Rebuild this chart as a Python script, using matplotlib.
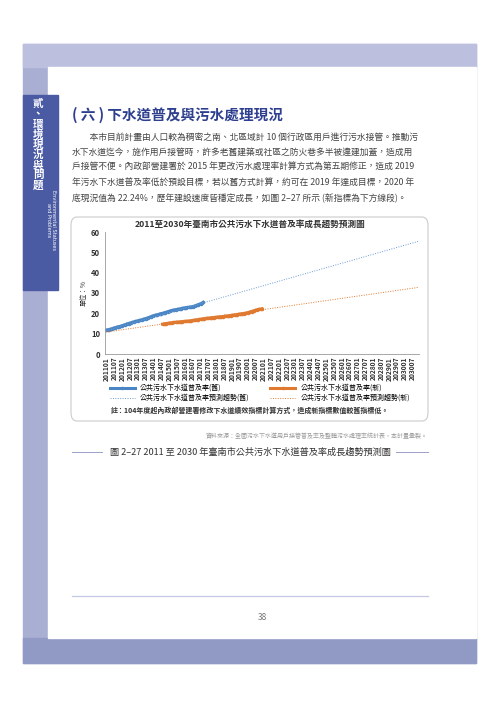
import matplotlib
matplotlib.use("Agg")
import matplotlib.pyplot as plt
from matplotlib.patches import Rectangle, FancyBboxPatch
import numpy as np

plt.rcParams['font.family'] = ['Noto Sans CJK TC', 'DejaVu Sans']

# ---- data ----
old_rate = [11.8,11.9,12.0,12.2,12.4,12.6,12.8,13.0,13.2,13.4,13.5,13.7,
            13.9,14.1,14.3,14.6,14.8,15.0,15.2,15.4,15.6,15.8,16.0,16.1,
            16.3,16.5,16.6,16.8,17.0,17.2,17.4,17.6,17.8,18.0,18.3,18.6,
            18.8,19.0,19.2,19.3,19.5,19.7,19.9,20.0,20.2,20.4,20.6,20.8,
            21.0,21.2,21.4,21.5,21.7,21.8,21.9,22.0,22.2,22.3,22.5,22.6,
            22.7,22.8,22.9,23.0,23.1,23.2,23.3,23.5,23.7,24.0,24.2,24.4,
            24.7,25.0,25.4]
old_start = 0          # 2011-01
new_rate = [14.7,14.8,14.9,15.0,15.1,
            15.2,15.3,15.4,15.5,15.5,15.6,15.7,15.7,15.8,15.9,15.9,16.0,
            16.0,16.1,16.1,16.2,16.3,16.4,16.5,16.6,16.7,16.8,16.9,17.0,
            17.1,17.2,17.3,17.4,17.5,17.6,17.6,17.7,17.8,17.9,17.9,18.0,
            18.0,18.1,18.2,18.3,18.3,18.4,18.5,18.6,18.6,18.7,18.8,18.9,
            19.0,19.1,19.2,19.3,19.4,19.5,19.6,19.7,19.8,19.9,20.0,20.1,
            20.3,20.5,20.7,20.9,21.1,21.3,21.5,21.7,21.9,22.0,22.1,22.24]
new_start = 43         # 2014-08
trend_months = [0, 239]
old_trend = [11.5, 55.5]
new_trend = [10.8, 32.8]
years = list(range(2011, 2031))
tick_labels = [f"{y}{m}" for y in years for m in ("01", "07")]

W, H = 500, 707
fig = plt.figure(figsize=(5, 7.07), dpi=100)
def fx(x): return x / W
def fy(y): return 1 - y / H

# page frame
fig.patches.append(Rectangle((fx(23), fy(663)), fx(453), (619) / H, transform=fig.transFigure, color='#a9afd3', zorder=0))
fig.patches.append(Rectangle((fx(23), fy(67)), fx(453), 23 / H, transform=fig.transFigure, color='#bcc0de', zorder=0.5))
fig.patches.append(Rectangle((fx(23), fy(663)), fx(453), 25 / H, transform=fig.transFigure, color='#9199c5', zorder=0.5))
fig.patches.append(Rectangle((fx(48), fy(638)), fx(428), 571 / H, transform=fig.transFigure, color='white', zorder=1))
fig.patches.append(Rectangle((fx(23), fy(290)), fx(35), 195 / H, transform=fig.transFigure, color='#4a5aa3', zorder=1))
fig.text(fx(38), fy(99), "貳\n、\n環\n境\n現\n況\n與\n問\n題", color='white', fontsize=7.6, fontweight='bold',
         ha='center', va='top', linespacing=1.0, zorder=2)
fig.text(fx(51), fy(220), "Environmental Statuses\nand Problems", color='white', fontsize=3.6, rotation=-90,
         ha='center', va='center', family='DejaVu Sans', linespacing=1.0, zorder=2)

# heading and body
fig.text(fx(72), fy(115), "( 六 ) 下水道普及與污水處理現況", color='#2e3f8f', fontsize=10.5, fontweight='bold', va='center')
body = ["　　本市目前計畫由人口較為稠密之南、北區域計 10 個行政區用戶進行污水接管。推動污",
        "水下水道迄今，施作用戶接管時，許多老舊建築或社區之防火巷多半被違建加蓋，造成用",
        "戶接管不便。內政部營建署於 2015 年更改污水處理率計算方式為第五期修正，造成 2019",
        "年污水下水道普及率低於預設目標，若以舊方式計算，約可在 2019 年達成目標，2020 年",
        "底現況值為 22.24%，歷年建設速度皆穩定成長，如圖 2–27 所示 (新指標為下方線段)。"]
for i, line in enumerate(body):
    fig.text(fx(72), fy(137 + i * 15.3), line, fontsize=6.3, color='#444444', va='center')

# chart box
fig.patches.append(FancyBboxPatch((fx(71), fy(421)), fx(357), 204 / H, boxstyle="round,pad=0,rounding_size=0.012",
                                  transform=fig.transFigure, facecolor='white', edgecolor='#cccccc', lw=0.8, zorder=1.5))

ax = fig.add_axes([fx(105), fy(354), fx(314), 122 / H])
ax.set_zorder(3)
xo = np.arange(old_start, old_start + len(old_rate))
xn = np.arange(new_start, new_start + len(new_rate))
l1, = ax.plot(xo, old_rate, color='#4a86c5', lw=2.2, marker='o', ms=1.5)
l2, = ax.plot(xn, new_rate, color='#e07a30', lw=2.2, marker='o', ms=1.5)
l3, = ax.plot(trend_months, old_trend, color='#6b9bd1', lw=0.7, ls=(0, (1, 1.5)))
l4, = ax.plot(trend_months, new_trend, color='#e07a30', lw=0.7, ls=(0, (1, 1.5)))
ax.set_xlim(-1, 239)
ax.set_ylim(0, 60)
ax.set_yticks(range(0, 61, 10))
ax.set_xticks(range(0, 240, 6))
ax.set_xticklabels(tick_labels, rotation=90, fontsize=4.8, fontweight='bold', color='#333333')
ax.tick_params(axis='y', labelsize=5.5, length=0, colors='#333333')
ax.tick_params(axis='x', length=0, pad=2)
for s in ['top', 'right']:
    ax.spines[s].set_visible(False)
for s in ['left', 'bottom']:
    ax.spines[s].set_color('#999999')
    ax.spines[s].set_linewidth(0.6)
for lab in ax.get_yticklabels():
    lab.set_fontweight('bold')
fig.text(fx(84), fy(293), "單位：%", rotation=90, fontsize=4.8, ha='center', va='center', color='#333333')
fig.text(fx(250), fy(224), "2011至2030年臺南市公共污水下水道普及率成長趨勢預測圖", fontsize=6.2,
         fontweight='bold', ha='center', va='center', color='#333333', zorder=4)
fig.legend([l1, l3, l2, l4],
           ["公共污水下水道普及率(舊)", "公共污水下水道普及率預測趨勢(舊)",
            "公共污水下水道普及率(新)", "公共污水下水道普及率預測趨勢(新)"],
           ncol=2, loc='center', bbox_to_anchor=(fx(260), fy(393)), fontsize=5, frameon=False,
           handlelength=3.5, columnspacing=3, labelspacing=0.3, borderpad=0)
fig.text(fx(250), fy(410), "註：104年度起內政部營建署修改下水道績效指標計算方式，造成新指標數值較舊指標低。",
         fontsize=5, fontweight='bold', ha='center', va='center', color='#333333', zorder=4)

# source and caption
fig.text(fx(428), fy(436), "資料來源：全國污水下水道用戶接管普及率及整體污水處理率統計表，本計畫彙製。",
         fontsize=4.3, ha='right', va='center', color='#999999', zorder=4)
fig.text(fx(250), fy(452), "圖 2–27 2011 至 2030 年臺南市公共污水下水道普及率成長趨勢預測圖",
         fontsize=6.6, fontweight='medium', ha='center', va='center', color='#333333', zorder=4)
fig.add_artist(plt.Line2D([fx(72), fx(102)], [fy(452)] * 2, color='#9aa0cc', lw=0.7, zorder=4))
fig.add_artist(plt.Line2D([fx(396), fx(428)], [fy(452)] * 2, color='#9aa0cc', lw=0.7, zorder=4))
fig.add_artist(plt.Line2D([fx(72), fx(428)], [fy(596)] * 2, color='#c5c8e3', lw=0.9, zorder=4))
fig.text(fx(262), fy(618), "38", fontsize=6, ha='center', va='center', color='#777777', zorder=4)

fig.savefig("out.png", dpi=100)
